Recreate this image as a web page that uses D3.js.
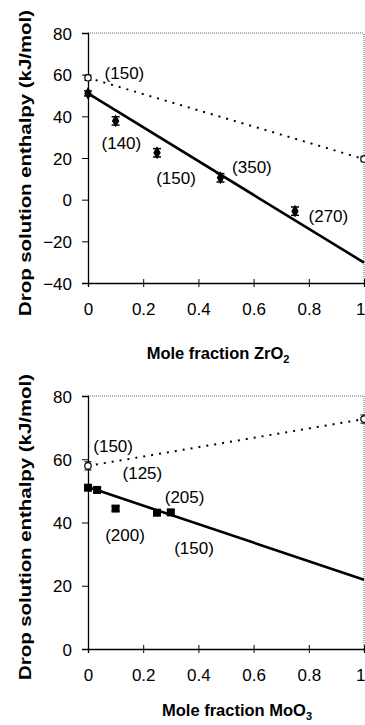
<!DOCTYPE html>
<html>
<head>
<meta charset="utf-8">
<script src="https://cdn.jsdelivr.net/npm/d3@7"></script>
<style>
  body { margin: 0; background: white; }
  svg { display: block; font-family: "Liberation Sans", Arial, sans-serif; }
</style>
</head>
<body>
<div id="d3-container"></div>
<script>
// ZrO2 panel
let zrX = [0, 0.1, 0.25, 0.48, 0.75];
let zrY = [51, 37.8, 22.5, 10.5, -5.5];
let zrErr = [1.2, 2, 2, 2, 2];
let zrEndX = [0, 1];
let zrEndY = [58.5, 19.5];
let zrFitY = [51, -30.2];
let zrLabels = ['(150)', '(140)', '(150)', '(350)', '(270)'];
let zrLabelX = [0.132, 0.121, 0.319, 0.594, 0.871];
let zrLabelY = [60.8, 27.2, 10.5, 15.7, -7.8];
let zrTicksY = [-40, -20, 0, 20, 40, 60, 80];

// MoO3 panel
let moX = [0, 0.033, 0.1, 0.25, 0.3];
let moY = [51, 50.3, 44.4, 43.1, 43.2];
let moEndX = [0, 1];
let moEndY = [57.9, 72.7];
let moFitY = [51.2, 21.9];
let moLabels = ['(150)', '(125)', '(205)', '(200)', '(150)'];
let moLabelX = [0.091, 0.197, 0.35, 0.134, 0.384];
let moLabelY = [64.2, 55.7, 48.2, 36.1, 32];
let moTicksY = [0, 20, 40, 60, 80];

let ticksX = [0, 0.2, 0.4, 0.6, 0.8, 1];
let tickLabelsX = ['0', '0.2', '0.4', '0.6', '0.8', '1'];

let width = 365,
  height = 725;

let svg = d3
  .select('#d3-container')
  .append('svg')
  .attr('width', width)
  .attr('height', height);

function drawPanel(p) {
  let x = d3.scaleLinear().domain([0, 1]).range([88, 364]);
  let y = d3.scaleLinear().domain(p.yDomain).range([p.bottom, p.top]);
  let g = svg.append('g');

  // dotted frame on top and right
  g.append('line')
    .attr('x1', x(0)).attr('x2', x(1))
    .attr('y1', y(p.yDomain[1])).attr('y2', y(p.yDomain[1]))
    .attr('stroke', '#666').attr('stroke-dasharray', '1,1');
  g.append('line')
    .attr('x1', x(1)).attr('x2', x(1))
    .attr('y1', y(p.yDomain[0])).attr('y2', y(p.yDomain[1]))
    .attr('stroke', '#666').attr('stroke-dasharray', '1,1');

  // axes
  let yAxis = g.append('g')
    .attr('transform', 'translate(' + x(0) + ',0)')
    .call(d3.axisLeft(y).tickValues(p.ticksY).tickSize(6).tickPadding(10).tickFormat(d3.format('d')));
  let xAxis = g.append('g')
    .attr('transform', 'translate(0,' + y(p.yDomain[0]) + ')')
    .call(d3.axisBottom(x).tickValues(ticksX).tickSize(4).tickPadding(16)
      .tickFormat(function (d, i) { return tickLabelsX[i]; }));
  xAxis.selectAll('.tick line').attr('y1', -4);
  // last label sits at the right edge, keep it inside the page
  xAxis.selectAll('.tick text').filter(function (d) { return d === 1; })
    .attr('text-anchor', 'end').attr('x', 1);
  [yAxis, xAxis].forEach(function (a) {
    a.select('.domain').attr('stroke', '#000').attr('stroke-width', 1.3);
    a.selectAll('.tick line').attr('stroke', '#000');
    a.selectAll('text').attr('font-size', 17).attr('font-family', '"Liberation Sans", Arial, sans-serif').attr('fill', '#000');
  });
  yAxis.selectAll('text').attr('dy', '0.36em');

  // lines
  g.append('line')
    .attr('x1', x(p.endX[0])).attr('y1', y(p.endY[0]))
    .attr('x2', x(p.endX[1])).attr('y2', y(p.endY[1]))
    .attr('stroke', '#000').attr('stroke-width', 2).attr('stroke-dasharray', '2,6');
  g.append('line')
    .attr('x1', x(0)).attr('y1', y(p.fitY[0]))
    .attr('x2', x(1)).attr('y2', y(p.fitY[1]))
    .attr('stroke', '#000').attr('stroke-width', 2.6);

  // error bars
  let pts = p.xs.map(function (v, i) { return { x: v, y: p.ys[i], e: p.err ? p.err[i] : 0.8 }; });
  pts.forEach(function (d) {
    let cx = x(d.x);
    g.append('line').attr('x1', cx).attr('x2', cx)
      .attr('y1', y(d.y - d.e)).attr('y2', y(d.y + d.e)).attr('stroke', '#000').attr('stroke-width', 1.5);
    [d.y - d.e, d.y + d.e].forEach(function (v) {
      g.append('line').attr('x1', cx - 4).attr('x2', cx + 4)
        .attr('y1', y(v)).attr('y2', y(v)).attr('stroke', '#000').attr('stroke-width', 1.5);
    });
  });
  g.selectAll('.pt')
    .data(pts)
    .enter()
    .append('path')
    .attr('d', d3.symbol().type(p.symbol).size(p.symbolSize))
    .attr('transform', function (d) { return 'translate(' + x(d.x) + ',' + y(d.y) + ')'; })
    .attr('fill', '#000');

  // open end markers
  p.endX.forEach(function (v, i) {
    let cx = x(v), cy = y(p.endY[i]);
    [p.endY[i] - 1.3, p.endY[i] + 1.3].forEach(function (w) {
      g.append('line').attr('x1', cx - 3.5).attr('x2', cx + 3.5)
        .attr('y1', y(w)).attr('y2', y(w)).attr('stroke', '#000').attr('stroke-width', 1);
    });
    g.append('circle').attr('cx', cx).attr('cy', cy).attr('r', 3.2)
      .attr('fill', '#fff').attr('stroke', '#000').attr('stroke-width', 1.2);
  });

  // count labels
  g.selectAll('.lab')
    .data(p.labels)
    .enter()
    .append('text')
    .attr('x', function (d, i) { return x(p.labelX[i]); })
    .attr('y', function (d, i) { return y(p.labelY[i]); })
    .attr('dy', '0.36em')
    .attr('text-anchor', 'middle')
    .attr('font-size', 17)
    .text(function (d) { return d; });

  // axis titles
  svg.append('text')
    .attr('transform', 'translate(31,' + p.yTitleY + ') rotate(-90)')
    .attr('text-anchor', 'middle')
    .attr('font-size', 16.5)
    .attr('font-weight', 'bold')
    .attr('textLength', 306)
    .attr('lengthAdjust', 'spacingAndGlyphs')
    .text('Drop solution enthalpy (kJ/mol)');
  let xt = svg.append('text')
    .attr('x', p.xTitleX)
    .attr('y', p.xTitleY)
    .attr('text-anchor', 'middle')
    .attr('font-size', 16.5)
    .attr('font-weight', 'bold');
  xt.append('tspan').text(p.xTitle);
  xt.append('tspan').attr('font-size', 11).attr('dy', 4).text(p.xSub);
}

drawPanel({
  top: 33, bottom: 283, yDomain: [-40, 80], ticksY: zrTicksY,
  xs: zrX, ys: zrY, err: zrErr, endX: zrEndX, endY: zrEndY, fitY: zrFitY,
  labels: zrLabels, labelX: zrLabelX, labelY: zrLabelY,
  symbol: d3.symbolDiamond, symbolSize: 48,
  yTitleY: 163, xTitleX: 218, xTitleY: 359, xTitle: 'Mole fraction ZrO', xSub: '2'
});

drawPanel({
  top: 396, bottom: 649, yDomain: [0, 80], ticksY: moTicksY,
  xs: moX, ys: moY, err: null, endX: moEndX, endY: moEndY, fitY: moFitY,
  labels: moLabels, labelX: moLabelX, labelY: moLabelY,
  symbol: d3.symbolSquare, symbolSize: 64,
  yTitleY: 527, xTitleX: 237, xTitleY: 716, xTitle: 'Mole fraction MoO', xSub: '3'
});
</script>
</body>
</html>
